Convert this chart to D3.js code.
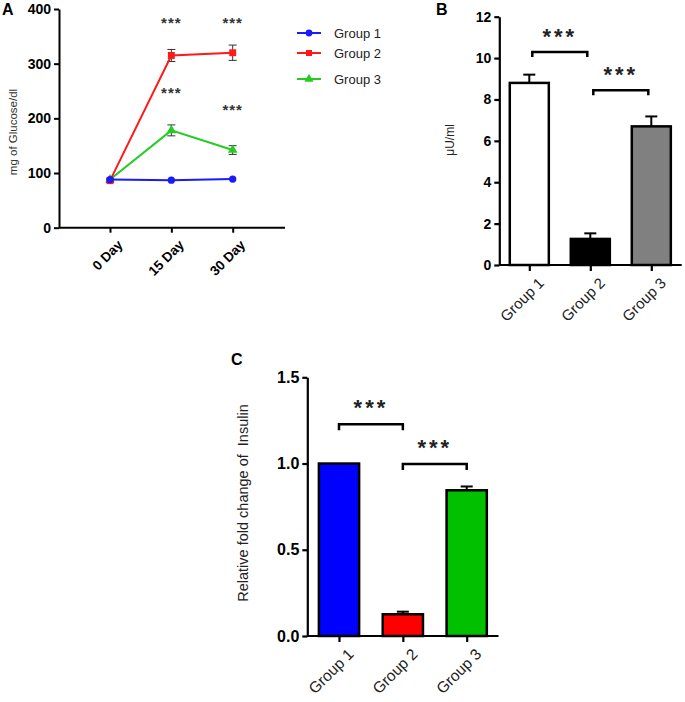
<!DOCTYPE html>
<html><head><meta charset="utf-8">
<script src="https://cdn.jsdelivr.net/npm/d3@7"></script>
<style>body{margin:0;background:#fff}svg{display:block;font-family:"Liberation Sans",Arial,sans-serif}</style>
</head><body>
<svg id="c" width="685" height="702"></svg>
<script>
// ---- Panel A data ----
const days = ["0 Day", "15 Day", "30 Day"];
const groupNames = ["Group 1", "Group 2", "Group 3"];
const glucoseG1 = [88, 87, 89];
const glucoseG2 = [86, 315, 320];
const glucoseG3 = [88, 178, 142];
const glucoseErrG1 = [2, 2, 2];
const glucoseErrG2 = [3, 11, 14];
const glucoseErrG3 = [2, 10, 8];
const glucoseTicks = [0, 100, 200, 300, 400];
const sigA = [{day: "15 Day", y: 365}, {day: "30 Day", y: 365}, {day: "15 Day", y: 237}, {day: "30 Day", y: 206}];
// ---- Panel B data ----
const insulinSerum = [8.8, 1.26, 6.7];
const insulinSerumErr = [0.4, 0.27, 0.48];
const serumTicks = [0, 2, 4, 6, 8, 10, 12];
const bracketsB = [{a: "Group 1", b: "Group 2", y: 10.3}, {a: "Group 2", b: "Group 3", y: 8.45}];
// ---- Panel C data ----
const insulinFold = [1.0, 0.126, 0.845];
const insulinFoldErr = [0, 0.015, 0.022];
const foldTicks = [0, 0.5, 1.0, 1.5];
const bracketsC = [{a: "Group 1", b: "Group 2", y: 1.228}, {a: "Group 2", b: "Group 3", y: 0.998}];

const svg = d3.select("#c");
const FONT = '"Liberation Sans",Arial,sans-serif';

function styleAxis(g, sw, fs, weight) {
  g.selectAll(".domain").attr("stroke", "#000").attr("stroke-width", sw);
  g.selectAll(".tick line").attr("stroke", "#000").attr("stroke-width", sw);
  g.selectAll(".tick text").attr("fill", "#000").attr("font-size", fs).attr("font-weight", weight).attr("font-family", FONT);
}

// ================= Panel A =================
(function(){
  const x0 = 59, xEnd = 285;
  const x = d3.scalePoint().domain(days).range([110, 232.7]);
  const y = d3.scaleLinear().domain([0, 400]).range([227.7, 9]);
  const g = svg.append("g");
  const colors = ["#1a1aff", "#ff1a1a", "#22cc22"];
  const series = [glucoseG1, glucoseG2, glucoseG3];
  const errs = [glucoseErrG1, glucoseErrG2, glucoseErrG3];

  const ya = g.append("g").attr("transform", `translate(${x0},0)`)
    .call(d3.axisLeft(y).tickValues(glucoseTicks).tickSize(5).tickSizeOuter(0).tickPadding(3));
  styleAxis(ya, 2, 14, "bold");
  const xa = g.append("g").attr("transform", `translate(0,${y(0)})`)
    .call(d3.axisBottom(x).tickSize(5).tickSizeOuter(0));
  xa.select(".domain").remove();
  xa.insert("line", ":first-child").attr("x1", x0).attr("x2", xEnd).attr("stroke", "#000").attr("stroke-width", 2);
  styleAxis(xa, 2, 13.5, "bold");
  xa.selectAll(".tick text").attr("text-anchor", "end").attr("transform", "translate(4,9) rotate(-45)").attr("dy", "0.35em").attr("dx", "0");

  g.append("text").attr("transform", `translate(17,132) rotate(-90)`).attr("text-anchor", "middle")
    .attr("font-size", 11.5).attr("fill", "#333").text("mg of Glucose/dl");
  g.append("text").attr("x", 2).attr("y", 15).attr("font-size", 16).attr("font-weight", "bold").text("A");

  // draw order: green, red, blue (blue on top)
  [2, 1, 0].forEach(i => {
    const data = days.map((d, k) => ({d, v: series[i][k], e: errs[i][k]}));
    data.forEach(p => {
      if (p.e > 2) {
        g.append("line").attr("x1", x(p.d)).attr("x2", x(p.d)).attr("y1", y(p.v - p.e)).attr("y2", y(p.v + p.e)).attr("stroke", "#333").attr("stroke-width", 1);
        [p.v - p.e, p.v + p.e].forEach(v => g.append("line").attr("x1", x(p.d) - 4).attr("x2", x(p.d) + 4).attr("y1", y(v)).attr("y2", y(v)).attr("stroke", "#333").attr("stroke-width", 1));
      }
    });
    g.append("path").datum(data).attr("fill", "none").attr("stroke", colors[i]).attr("stroke-width", 2)
      .attr("d", d3.line().x(p => x(p.d)).y(p => y(p.v)));
    const sym = [d3.symbolCircle, d3.symbolSquare, d3.symbolTriangle][i];
    const size = [42, 48, 40][i];
    g.selectAll(null).data(data).enter().append("path")
      .attr("transform", p => `translate(${x(p.d)},${y(p.v)})`)
      .attr("d", d3.symbol().type(sym).size(size)).attr("fill", colors[i]);
  });

  sigA.forEach(s => g.append("text").attr("x", x(s.day)).attr("y", y(s.y)).attr("text-anchor", "middle")
    .attr("font-size", 15).attr("font-weight", "bold").attr("letter-spacing", 1).attr("fill", "#333").text("***"));

  // legend
  const ly = [33, 53, 79];
  groupNames.forEach((n, i) => {
    g.append("line").attr("x1", 297).attr("x2", 321).attr("y1", ly[i]).attr("y2", ly[i]).attr("stroke", colors[i]).attr("stroke-width", 2);
    const sym = [d3.symbolCircle, d3.symbolSquare, d3.symbolTriangle][i];
    g.append("path").attr("transform", `translate(309,${ly[i]})`).attr("d", d3.symbol().type(sym).size(36)).attr("fill", colors[i]);
    g.append("text").attr("x", 334).attr("y", ly[i] + 5).attr("font-size", 13).attr("fill", "#222").text(n);
  });
})();

function barPanel(opt) {
  const g = svg.append("g");
  const x = d3.scalePoint().domain(groupNames).range(opt.xr);
  const bw = x.step() * opt.bwf;
  const y = d3.scaleLinear().domain(opt.yd).range(opt.yr);
  const ya = g.append("g").attr("transform", `translate(${opt.x0},0)`)
    .call(d3.axisLeft(y).tickValues(opt.ticks).tickFormat(opt.fmt).tickSize(5).tickSizeOuter(0).tickPadding(3));
  styleAxis(ya, 2.2, opt.tfs, "bold");
  groupNames.forEach((n, i) => {
    const v = opt.values[i], e = opt.errs[i];
    if (e > 0) {
      g.append("line").attr("x1", x(n)).attr("x2", x(n)).attr("y1", y(v)).attr("y2", y(v + e)).attr("stroke", "#000").attr("stroke-width", 2);
      g.append("line").attr("x1", x(n) - 6).attr("x2", x(n) + 6).attr("y1", y(v + e)).attr("y2", y(v + e)).attr("stroke", "#000").attr("stroke-width", 2);
    }
    g.append("rect").attr("x", x(n) - bw / 2).attr("width", bw).attr("y", y(v)).attr("height", y(0) - y(v))
      .attr("fill", opt.fills[i]).attr("stroke", "#000").attr("stroke-width", 2.5);
  });
  const xa = g.append("g").attr("transform", `translate(0,${y(0)})`)
    .call(d3.axisBottom(x).tickSize(6).tickSizeOuter(0));
  xa.select(".domain").remove();
  xa.insert("line", ":first-child").attr("x1", opt.x0).attr("x2", opt.xEnd).attr("stroke", "#000").attr("stroke-width", 2.2);
  styleAxis(xa, 2.2, opt.gfs, "normal");
  xa.selectAll(".tick text").attr("text-anchor", "end").attr("fill", "#222").attr("transform", "translate(5,9) rotate(-45)").attr("dy", "0.35em");
  opt.brackets.forEach(b => {
    const xa1 = x(b.a) + opt.bin, xb1 = x(b.b) - opt.bin, yy = y(b.y);
    g.append("path").attr("d", `M${xa1},${yy + opt.drop}V${yy}H${xb1}V${yy + opt.drop}`)
      .attr("fill", "none").attr("stroke", "#000").attr("stroke-width", 2.5);
    g.append("text").attr("x", (xa1 + xb1) / 2).attr("y", yy - opt.sgap).attr("text-anchor", "middle")
      .attr("font-size", opt.sfs).attr("font-weight", "bold").attr("letter-spacing", opt.sls).attr("fill", "#222").text("***");
  });
  g.append("text").attr("transform", `translate(${opt.tx},${opt.ty}) rotate(-90)`).attr("text-anchor", "middle")
    .attr("font-size", opt.titleFs).attr("fill", "#222").style("white-space", "pre").text(opt.title);
  g.append("text").attr("x", opt.lx).attr("y", opt.ly).attr("font-size", 16).attr("font-weight", "bold").text(opt.label);
}

// ================= Panel B =================
barPanel({
  xr: [529.3, 651.3], bwf: 0.64, yd: [0, 12], yr: [265, 16.7], x0: 499.3, xEnd: 681.7,
  ticks: serumTicks, fmt: d3.format("d"), tfs: 14, gfs: 15,
  values: insulinSerum, errs: insulinSerumErr, fills: ["#fff", "#000", "#808080"],
  brackets: bracketsB, bin: 3, drop: 5, sgap: 8, sfs: 22, sls: 3,
  title: "μU/ml", titleFs: 12, tx: 454, ty: 140, label: "B", lx: 436, ly: 15
});

// ================= Panel C =================
barPanel({
  xr: [339, 466.7], bwf: 0.63, yd: [0, 1.5], yr: [636, 377.3], x0: 307.3, xEnd: 498.5,
  ticks: foldTicks, fmt: d3.format(".1f"), tfs: 16, gfs: 15.5,
  values: insulinFold, errs: insulinFoldErr, fills: ["#0000ff", "#ff0000", "#00c000"],
  brackets: bracketsC, bin: 0, drop: 6, sgap: 9, sfs: 22, sls: 3,
  title: "Relative fold change of  Insulin", titleFs: 14.5, tx: 248, ty: 503, label: "C", lx: 231, ly: 365
});
</script>
</body></html>
